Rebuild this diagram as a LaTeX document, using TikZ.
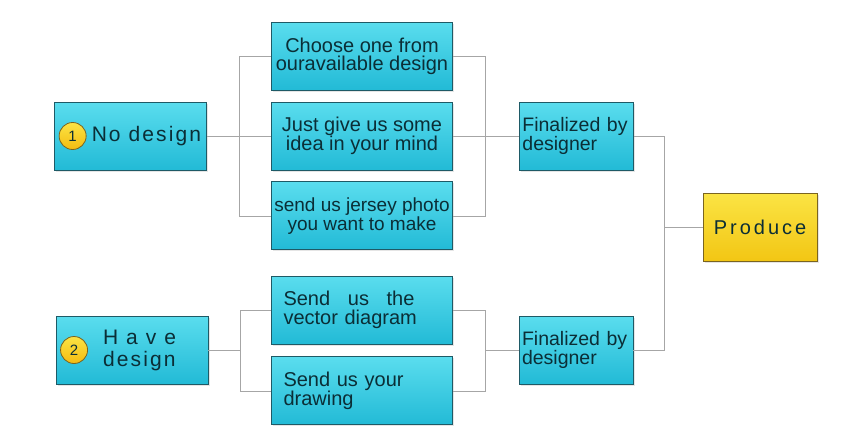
\documentclass[tikz,border=0pt]{standalone}
\usepackage{fontspec}
\setmainfont{Liberation Sans}
\newfontfamily\widefont[LetterSpace=10]{Liberation Sans}
\newfontfamily\producefont[LetterSpace=15]{Liberation Sans}
\usepackage{xcolor}
\usepackage{tikz}
\usetikzlibrary{positioning, shadows}

\definecolor{boxtop}{HTML}{5ADDEE}
\definecolor{boxbot}{HTML}{22BAD6}
\definecolor{boxline}{HTML}{1E5A66}
\definecolor{inktext}{HTML}{0B2E36}
\definecolor{yeltop}{HTML}{FBE444}
\definecolor{yelbot}{HTML}{F2C614}
\definecolor{yelline}{HTML}{7A6420}
\definecolor{linkgray}{HTML}{A6A6A6}

\begin{document}
\begin{tikzpicture}[
  x=1pt, y=-1pt,
  box/.style={
    draw=boxline, line width=0.9pt, top color=boxtop, bottom color=boxbot,
    text=inktext, align=center, inner sep=2pt,
    minimum width=181pt, minimum height=68pt,
    font=\fontsize{20}{18.5}\selectfont,
    drop shadow={opacity=0.2, shadow xshift=1.5pt, shadow yshift=-1.5pt}
  },
  startbox/.style={box, minimum width=152pt},
  finbox/.style={
    box, minimum width=114pt, text width=108pt, inner xsep=3pt, align=left,
    font=\fontsize{19.5}{18}\selectfont
  },
  producebox/.style={
    box, minimum width=114pt, top color=yeltop, bottom color=yelbot,
    draw=yelline, font=\producefont\fontsize{20}{20}\selectfont
  },
  badge/.style={
    circle, draw=yelline, line width=0.8pt, top color=yeltop, bottom color=yelbot!85!orange,
    minimum size=27pt, inner sep=0pt, text=inktext, font=\fontsize{15}{15}\selectfont
  },
  starttext/.style={inner sep=0pt, text=inktext, align=left, font=\widefont\fontsize{21}{22}\selectfont},
  link/.style={draw=linkgray, line width=0.8pt}
]
\useasboundingbox[fill=white] (0,0) rectangle (845,440);

\node[box] (just) at (362,136) {Just give us some\\idea in your mind};
\node[box, above=11pt of just] (choose) {Choose one from\\ouravailable design};
\node[box, below=11pt of just, inner xsep=0pt, font=\fontsize{19}{18.5}\selectfont] (jersey) {send us jersey photo\\you want to make};
\node[startbox, left=64pt of just] (nodesign) {};
\node[finbox, right=66pt of just] (fintop) {Finalized by\\designer};

\node[box, align=left, text width=157pt] (vector) at (362,310) {\makebox[131pt]{Send\hfill us\hfill the}\\vector diagram};
\node[box, align=left, text width=157pt, below=12pt of vector] (drawing) {Send us your\\drawing};
\node[startbox] (havedesign) at (132,350) {};
\node[finbox] (finbottom) at (576,350) {Finalized by\\designer};

\node[producebox] (produce) at (760,227) {Produce};

\node[badge] (one) at ([xshift=18.5pt]nodesign.west) {1};
\node[starttext, right=5pt of one] (nodesigntext) {No design};
\node[badge] (two) at ([xshift=18.5pt]havedesign.west) {2};
\node[starttext, right=15pt of two] (havetext) {H a v e\\design};

\draw[link] (nodesign.east) -- (just.west);
\draw[link] (choose.west) -- ++(-32,0) |- (jersey.west);
\draw[link] (choose.east) -- ++(32,0) |- (jersey.east);
\draw[link] (just.east) -- (fintop.west);

\draw[link] (havedesign.east) -- ++(32,0) coordinate (splitbottom);
\draw[link] (vector.west) -| (splitbottom) |- (drawing.west);
\draw[link] (vector.east) -- ++(32,0) coordinate (mergebottom) |- (drawing.east);
\draw[link] (finbottom.west) -- (finbottom.west -| mergebottom);

\draw[link] (fintop.east) -- ++(31,0) coordinate (mergetop) |- (finbottom.east);
\draw[link] (produce.west) -- (produce.west -| mergetop);

\end{tikzpicture}
\end{document}
